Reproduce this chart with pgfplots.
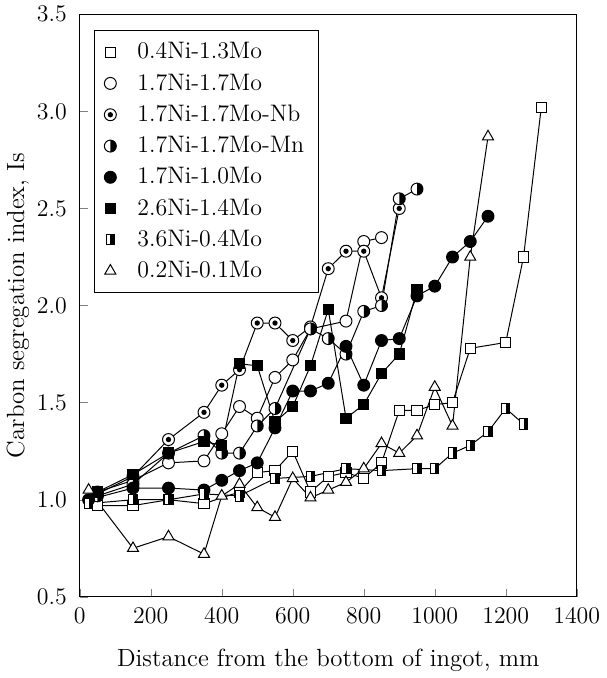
\documentclass[border=0pt]{standalone}
\usepackage{pgfplots}
\pgfplotsset{compat=1.18}
\pgfdeclareplotmark{dotcirc}{%
  \pgfpathcircle{\pgfpointorigin}{\pgfplotmarksize}%
  \pgfsetfillcolor{white}\pgfusepathqfillstroke
  \pgfpathcircle{\pgfpointorigin}{0.45\pgfplotmarksize}%
  \pgfsetfillcolor{black}\pgfusepathqfill
}
\pgfdeclareplotmark{halfcirc}{%
  \pgfpathcircle{\pgfpointorigin}{\pgfplotmarksize}%
  \pgfsetfillcolor{white}\pgfusepathqfillstroke
  \pgfpathmoveto{\pgfpoint{0pt}{\pgfplotmarksize}}%
  \pgfpatharc{90}{-90}{\pgfplotmarksize}%
  \pgfpathclose
  \pgfsetfillcolor{black}\pgfusepathqfill
}
\pgfdeclareplotmark{halfsq}{%
  \pgfpathrectangle{\pgfpoint{-0.8\pgfplotmarksize}{-\pgfplotmarksize}}{\pgfpoint{1.6\pgfplotmarksize}{2\pgfplotmarksize}}%
  \pgfsetfillcolor{white}\pgfusepathqfillstroke
  \pgfpathrectangle{\pgfpoint{0pt}{-\pgfplotmarksize}}{\pgfpoint{0.8\pgfplotmarksize}{2\pgfplotmarksize}}%
  \pgfsetfillcolor{black}\pgfusepathqfill
}
\begin{document}
\begin{tikzpicture}
\begin{axis}[
  scale only axis,
  width=250pt, height=293pt,
  xmin=0, xmax=1400, ymin=0.5, ymax=3.5,
  xtick={0,200,...,1400},
  ytick={0.5,1.0,...,3.5},
  tick align=inside,
  xtick pos=bottom, ytick pos=left,
  major tick length=4pt,
  tick label style={font=\fontsize{12}{14}\selectfont},
  yticklabel style={xshift=-3pt,/pgf/number format/.cd,fixed,fixed zerofill,precision=1},
  xticklabel style={yshift=-2pt,/pgf/number format/1000 sep={}},
  xlabel={Distance from the bottom of ingot, mm},
  ylabel={Carbon segregation index, Is},
  label style={font=\fontsize{12.5}{14}\selectfont},
  xlabel style={yshift=-6pt},
  ylabel style={yshift=-3pt},
  every axis plot/.append style={black, line width=0.5pt},
  legend cell align=left,
  legend image code/.code={\path (0cm,0cm) (0.5cm,0cm); \draw[#1] plot[only marks] coordinates {(0.1cm,0cm)};},
  legend style={at={(axis description cs:0.028,0.973)}, anchor=north west,
    font=\fontsize{12}{13.5}\selectfont, draw=black, line width=0.6pt,
    row sep=2pt, inner xsep=5pt, inner ysep=4pt},
]
% 0.4Ni-1.3Mo
\addplot[mark=square*, mark options={fill=white, solid}, mark size=2.6pt] coordinates {
(50,0.97)(150,0.97)(250,1.00)(350,0.98)(450,1.04)(500,1.14)(550,1.15)(600,1.25)(650,1.04)(700,1.12)(750,1.14)(800,1.11)(850,1.19)(900,1.46)(950,1.46)(1000,1.49)(1050,1.50)(1100,1.78)(1200,1.81)(1250,2.25)(1300,3.02)};
\addlegendentry{0.4Ni-1.3Mo}
% 1.7Ni-1.7Mo
\addplot[mark=*, mark options={fill=white}, mark size=3pt] coordinates {
(50,1.04)(150,1.10)(250,1.19)(350,1.20)(400,1.34)(450,1.48)(500,1.42)(550,1.63)(600,1.72)(650,1.88)(750,1.92)(800,2.33)(850,2.35)};
\addlegendentry{1.7Ni-1.7Mo}
% 1.7Ni-1.7Mo-Nb
\addplot[mark=dotcirc, mark size=3pt] coordinates {
(50,1.03)(150,1.12)(250,1.31)(350,1.45)(400,1.59)(450,1.67)(500,1.91)(550,1.91)(600,1.82)(650,1.89)(700,2.19)(750,2.28)(800,2.28)(850,2.04)(900,2.50)};
\addlegendentry{1.7Ni-1.7Mo-Nb}
% 1.7Ni-1.7Mo-Mn
\addplot[mark=halfcirc, mark size=3pt] coordinates {
(50,1.02)(150,1.08)(250,1.24)(350,1.33)(400,1.24)(450,1.24)(500,1.38)(550,1.47)(650,1.88)(700,1.83)(750,1.75)(800,1.97)(850,2.00)(900,2.55)(950,2.60)};
\addlegendentry{1.7Ni-1.7Mo-Mn}
% 1.7Ni-1.0Mo
\addplot[mark=*, mark options={fill=black}, mark size=3pt] coordinates {
(25,1.00)(150,1.06)(250,1.06)(350,1.05)(400,1.10)(450,1.15)(500,1.19)(550,1.37)(600,1.56)(650,1.56)(700,1.60)(750,1.79)(800,1.59)(850,1.82)(900,1.83)(950,2.05)(1000,2.10)(1050,2.25)(1100,2.33)(1150,2.46)};
\addlegendentry{1.7Ni-1.0Mo}
% 2.6Ni-1.4Mo
\addplot[mark=square*, mark options={fill=black}, mark size=2.6pt] coordinates {
(50,1.04)(150,1.13)(250,1.24)(350,1.30)(400,1.28)(450,1.70)(500,1.69)(550,1.40)(600,1.48)(650,1.69)(700,1.98)(750,1.42)(800,1.49)(850,1.65)(900,1.75)(950,2.08)};
\addlegendentry{2.6Ni-1.4Mo}
% 3.6Ni-0.4Mo
\addplot[mark=halfsq, mark size=2.6pt] coordinates {
(25,0.98)(150,1.00)(250,1.00)(350,1.03)(450,1.02)(550,1.11)(650,1.12)(750,1.16)(850,1.15)(950,1.16)(1000,1.16)(1050,1.24)(1100,1.28)(1150,1.35)(1200,1.47)(1250,1.39)};
\addlegendentry{3.6Ni-0.4Mo}
% 0.2Ni-0.1Mo
\addplot[mark=triangle*, mark options={fill=white}, mark size=3.2pt] coordinates {
(25,1.05)(150,0.75)(250,0.81)(350,0.72)(400,1.02)(450,1.08)(500,0.96)(550,0.91)(600,1.11)(650,1.01)(700,1.05)(750,1.09)(800,1.16)(850,1.29)(900,1.24)(950,1.33)(1000,1.58)(1050,1.38)(1100,2.25)(1150,2.87)};
\addlegendentry{0.2Ni-0.1Mo}
\end{axis}
\end{tikzpicture}
\end{document}
